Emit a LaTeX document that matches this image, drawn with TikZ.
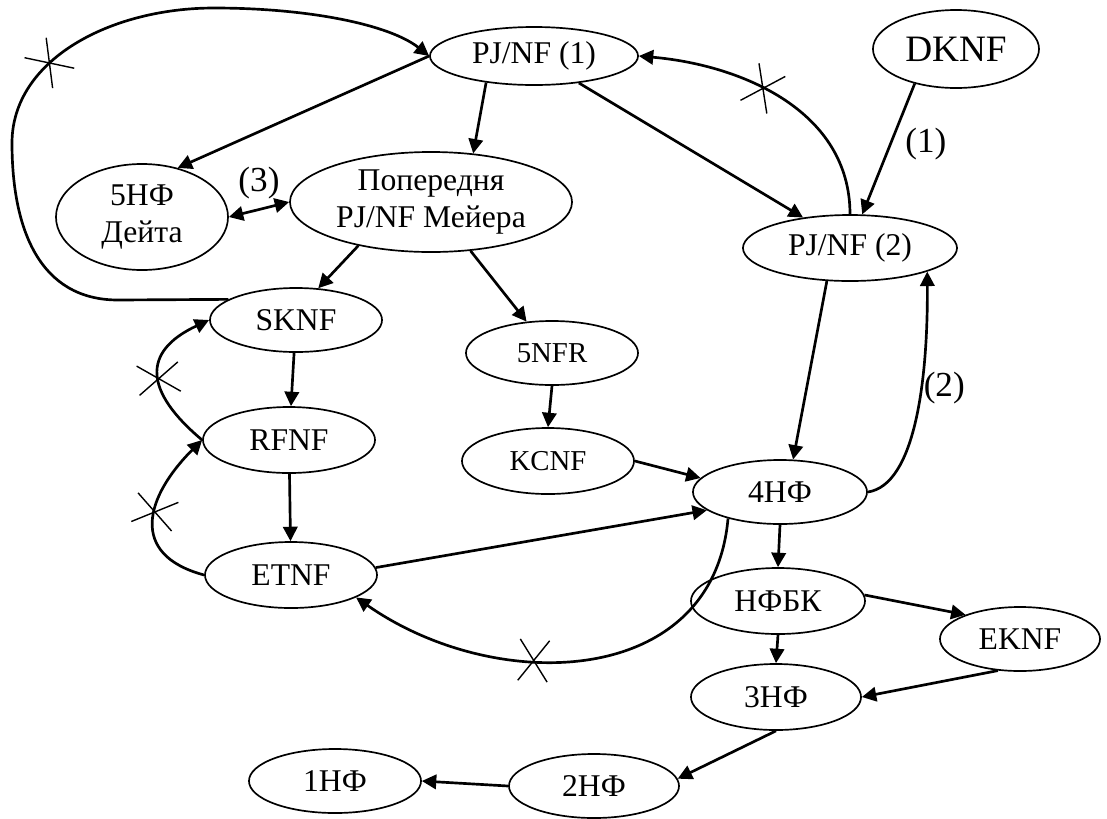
\documentclass[tikz,border=0pt]{standalone}
\usepackage{fontspec}
\setmainfont{Liberation Serif}
\usetikzlibrary{shapes.geometric,shapes.misc,arrows.meta}

\begin{document}
\begin{tikzpicture}[x=0.025cm,y=-0.025cm,
    >={Triangle[length=0.36cm,width=0.36cm]},
    nf/.style={draw,ellipse,line width=1.2pt,inner sep=0pt,align=center,
        minimum width=4.3cm,minimum height=1.65cm,
        font=\fontsize{22.5}{26.5}\selectfont},
    link/.style={line width=1.9pt,->},
    cut/.style={draw,cross out,sloped,line width=1pt,inner sep=0pt,
        minimum width=0.7cm,minimum height=1cm},
    num/.style={inner sep=1pt,font=\fontsize{25}{28}\selectfont}]
    \useasboundingbox (0,0) rectangle (1107,818);
    \node[nf,minimum width=5.2cm,minimum height=1.45cm] (pj1) at (534,56) {PJ/NF (1)};
    \node[nf,minimum width=4.15cm,minimum height=1.95cm,font=\fontsize{26.5}{30}\selectfont] (dknf) at (956,49) {DKNF};
    \node[nf,minimum width=5.35cm] (pj2) at (850,248) {PJ/NF (2)};
    \node[nf,minimum height=2.65cm] (nf5d) at (142,217) {5НФ\\Дейта};
    \node[nf,minimum width=7.05cm,minimum height=2.5cm] (meyer) at (431,202) {Попередня\\PJ/NF Мейера};
    \node[nf,minimum height=1.6cm] (sknf) at (296,320) {SKNF};
    \node[nf] (rfnf) at (289,440) {RFNF};
    \node[nf] (etnf) at (291,575) {ETNF};
    \node[nf,minimum height=1.6cm,font=\fontsize{20.5}{24}\selectfont] (nfr5) at (552,353) {5NFR};
    \node[nf,font=\fontsize{20.5}{24}\selectfont] (kcnf) at (548,461) {KCNF};
    \node[nf,minimum width=4.35cm,minimum height=1.6cm] (nf4) at (780,492) {4НФ};
    \node[nf,minimum width=4.35cm] (bcnf) at (778,601) {НФБК};
    \node[nf,minimum width=4cm,minimum height=1.6cm] (eknf) at (1020,639) {EKNF};
    \node[nf,minimum width=4.25cm] (nf3) at (776,697) {3НФ};
    \node[nf,minimum width=4.25cm,minimum height=1.6cm] (nf2) at (594,786) {2НФ};
    \node[nf,minimum height=1.6cm] (nf1) at (335,781) {1НФ};

    \draw[link] (pj1.west) -- (nf5d.54);
    \draw[link] (pj1.209) -- (meyer.49);
    \draw[link] (pj1.329) -- (pj2.147);
    \draw[link] (pj2.north) to[out=90,in=-5] node[cut,pos=.58]{} (pj1.east);
    \draw[link] (dknf.220) -- node[num,pos=.46,right=0.3cm]{(1)} (pj2.70);
    \draw[link] (pj2.235) -- (nf4.68);
    \draw[link] (nf4.east) .. controls (915,485) and (928,380) .. (pj2.343) node[num,pos=.62,right=0pt]{(2)};
    \draw[link,<->] (nf5d.east) -- node[num,above=0.2cm]{(3)} (meyer.west);
    \draw[link] (meyer.211) -- (sknf.55);
    \draw[link] (meyer.309) -- (nfr5.129);
    \draw[link] (nfr5.south) -- (kcnf.north);
    \draw[link] (sknf) -- (rfnf);
    \draw[link] (rfnf) -- (etnf);
    \draw[link] (rfnf.west) to[out=140,in=205,looseness=1.6] node[cut,pos=.46]{} (sknf.west);
    \draw[link] (etnf.west) to[out=165,in=225,looseness=1.5] node[cut,pos=.56]{} (rfnf.west);
    \draw[link] (sknf.163) -- (118,300) .. controls (40,300) and (12,230) .. (12,143)
        .. controls (12,60) and (110,8) .. (214,8) node[cut,pos=.38]{}
        .. controls (310,8) and (390,25) .. (pj1.west);
    \draw[link] (kcnf.east) -- (nf4.170);
    \draw[link] (etnf.5) -- (nf4.194);
    \draw[link] (nf4.207) to[out=-95,in=-35,looseness=1.15] node[cut,pos=.62]{} (etnf.341);
    \draw[link] (nf4.south) -- (bcnf.north);
    \draw[link] (bcnf.4) -- (eknf.156);
    \draw[link] (bcnf.south) -- (nf3.north);
    \draw[link] (eknf.235) -- (nf3.east);
    \draw[link] (nf3.south) -- (nf2.5);
    \draw[link] (nf2.west) -- (nf1.east);
\end{tikzpicture}
\end{document}
